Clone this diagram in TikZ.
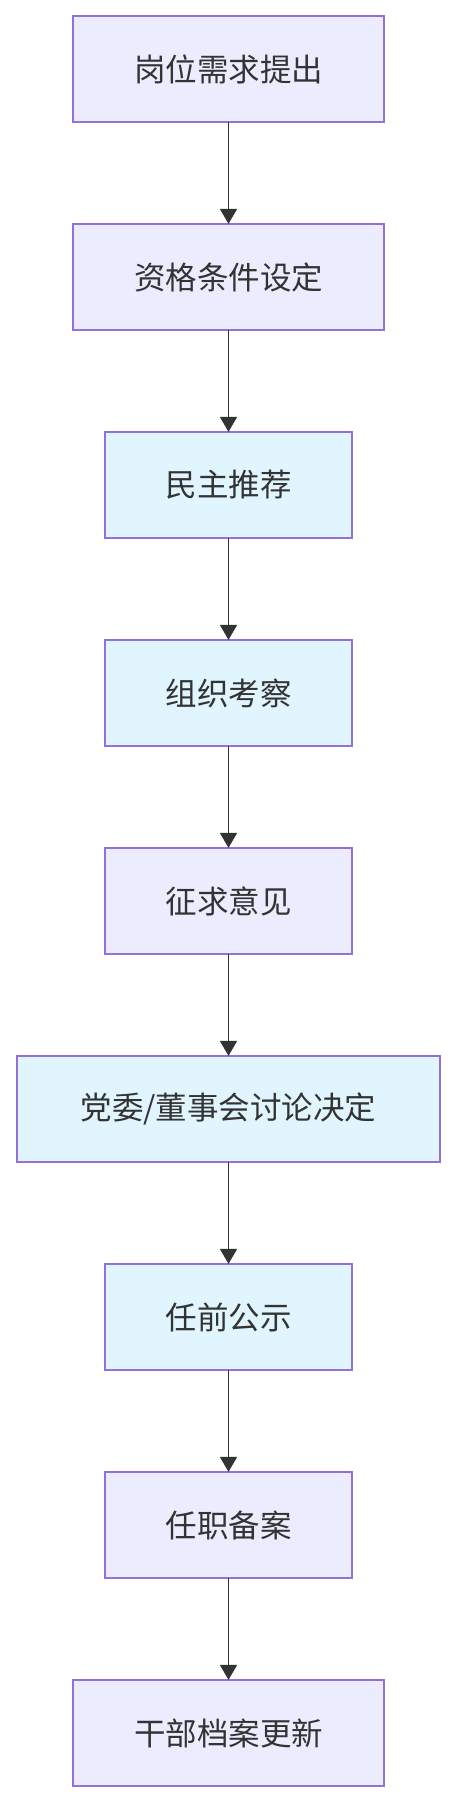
\documentclass[tikz,border=0pt]{standalone}
\usepackage{fontspec}
\newfontfamily\cjk{Noto Sans CJK SC}
\usepackage{xcolor}
\usetikzlibrary{positioning,arrows.meta}

\definecolor{bord}{HTML}{9370DB}
\definecolor{lavande}{HTML}{ECECFF}
\definecolor{bleuclair}{HTML}{E1F5FE}
\definecolor{texte}{HTML}{333333}

\begin{document}
\begin{tikzpicture}[x=1pt, y=1pt,
  etape/.style={draw=bord, line width=1.7pt, fill=lavande, minimum height=106.3pt,
    inner sep=0pt, outer sep=0pt, text=texte, font=\cjk\fontsize{31.5}{36}\selectfont},
  bleu/.style={etape, fill=bleuclair},
  fleche/.style={draw=texte, line width=1.7pt, -{Triangle[length=15pt, width=17pt]}}]
% Cadre de l'image
\useasboundingbox (0, 0) rectangle (456, -1804);

% Les étapes, de haut en bas
\node[etape, minimum width=311.3pt] (besoin) at (228.5, -69) {岗位需求提出};
\node[etape, minimum width=311.3pt, below=101.7pt of besoin] (conditions) {资格条件设定};
\node[bleu, minimum width=247.3pt, below=101.7pt of conditions] (recommandation) {民主推荐};
\node[bleu, minimum width=247.3pt, below=101.7pt of recommandation] (examen) {组织考察};
\node[etape, minimum width=247.3pt, below=101.7pt of examen] (avis) {征求意见};
\node[bleu, minimum width=423.3pt, below=101.7pt of avis] (decision) {党委/董事会讨论决定};
\node[bleu, minimum width=247.3pt, below=101.7pt of decision] (publicite) {任前公示};
\node[etape, minimum width=247.3pt, below=101.7pt of publicite] (enregistrement) {任职备案};
\node[etape, minimum width=311.3pt, below=101.7pt of enregistrement] (dossier) {干部档案更新};

% Les flèches entre les étapes
\draw[fleche] (besoin) -- (conditions);
\draw[fleche] (conditions) -- (recommandation);
\draw[fleche] (recommandation) -- (examen);
\draw[fleche] (examen) -- (avis);
\draw[fleche] (avis) -- (decision);
\draw[fleche] (decision) -- (publicite);
\draw[fleche] (publicite) -- (enregistrement);
\draw[fleche] (enregistrement) -- (dossier);
\end{tikzpicture}
\end{document}
